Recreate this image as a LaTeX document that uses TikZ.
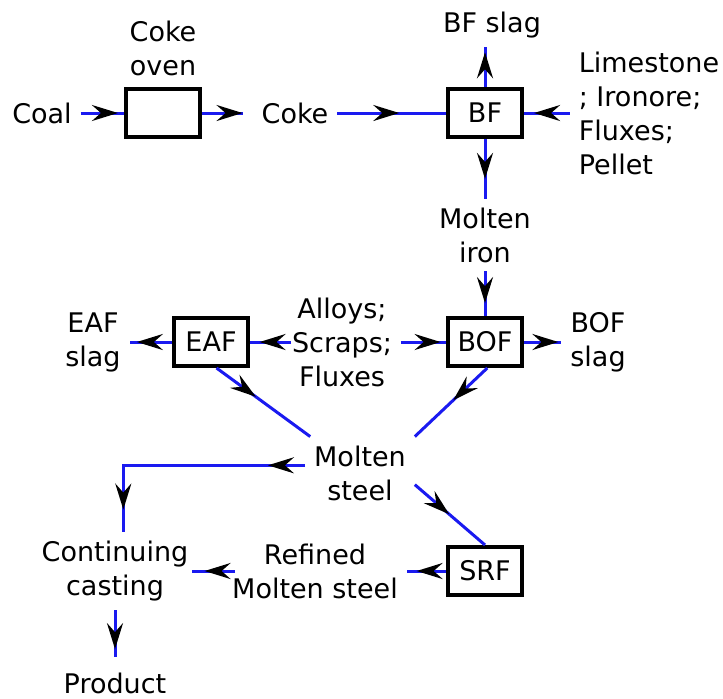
\documentclass[tikz,border=0pt]{standalone}
\usepackage{fontspec}
\setmainfont{DejaVu Sans}
\usepackage{tikz}
\usetikzlibrary{positioning, arrows.meta, decorations.markings}
\definecolor{flowblue}{HTML}{1A1AF0}

\begin{document}
\begin{tikzpicture}[
  x=0.5pt, y=-0.5pt, on grid,
  font=\fontsize{13.5}{17}\selectfont,
  unit/.style={
    rectangle, draw=black, line width=2pt, fill=white,
    minimum width=37pt, minimum height=24pt, inner sep=0pt
  },
  lbl/.style={align=center, inner sep=1pt, outer sep=3.5pt},
  flowtip/.tip={Stealth[length=13pt, width=8pt, inset=4.5pt]},
  tipat/.style={postaction={decorate, decoration={markings,
    mark=at position #1 with {\arrow[black]{flowtip}}}}},
  flow/.style={draw=flowblue, line width=1.5pt, tipat=#1},
  flow/.default=0.6,
]
\useasboundingbox (0,0) rectangle (723,698);

% Iron making
\node[unit] (bf) at (485,113) {BF};
\node[unit, left=161pt of bf] (oven) {};
\node[lbl, left=60.5pt of oven] (coal) {Coal};
\node[lbl, above=32.5pt of oven] (ovenlbl) {Coke\\oven};
\node[lbl, right=66pt of oven] (coke) {Coke};
\node[lbl, above right=44pt and 3.5pt of bf] (bfslag) {BF slag};
\node[lbl, align=left, right=82pt of bf] (lime)
  {Limestone\\; Ironore;\\Fluxes;\\Pellet};
\node[lbl, below=61pt of bf] (iron) {Molten\\iron};

% Steel making
\node[unit, below=114.5pt of bf] (bof) {BOF};
\node[lbl, right=56.5pt of bof] (bofslag) {BOF\\slag};
\node[lbl, left=71.5pt of bof] (alloys) {Alloys;\\Scraps;\\Fluxes};
\node[unit, left=65.5pt of alloys] (eaf) {EAF};
\node[lbl, left=59pt of eaf] (eafslag) {EAF\\slag};
\node[lbl, below right=65.5pt and 9pt of alloys] (steel) {Molten\\steel};

% Refining and casting
\node[unit, below=114.5pt of bof] (srf) {SRF};
\node[lbl, left=85pt of srf] (refined) {Refined\\Molten steel};
\node[lbl, left=100pt of refined] (cast) {Continuing\\casting};
\node[lbl, below=56pt of cast] (product) {Product};

% Flows
\draw[flow=0.86] (coal) -- (oven);
\draw[flow=0.8, shorten >=5pt] (oven) -- (coke);
\draw[flow=0.57] (coke) -- (bf);
\draw[flow=0.78] (lime) -- (bf);
\draw[flow=0.87] (bf.north) -- (bf.north |- bfslag.south);
\draw[flow=0.67] (bf) -- (iron);
\draw[flow=0.71] (iron) -- (bof);
\draw[flow=0.92] (bof) -- (bofslag);
\draw[flow=0.71, shorten <=-4pt] (alloys) -- (eaf);
\draw[flow=0.88] (alloys) -- (bof);
\draw[flow=0.83] (eaf) -- (eafslag);
\draw[flow=0.42] (eaf.-78) -- (steel);
\draw[flow=0.47] (bof.-85) -- (steel.north east);
\draw[flow=0.15, tipat=0.91] (steel.172) -| (cast.78);
\draw[flow=0.49] (steel.-12) -- (srf.north);
\draw[flow=0.75] (srf) -- (refined);
\draw[flow=0.72, shorten <=-6pt, shorten >=-2.5pt] (refined) -- (cast);
\draw[flow=0.73, shorten >=3.5pt] (cast) -- (product);

\end{tikzpicture}
\end{document}
